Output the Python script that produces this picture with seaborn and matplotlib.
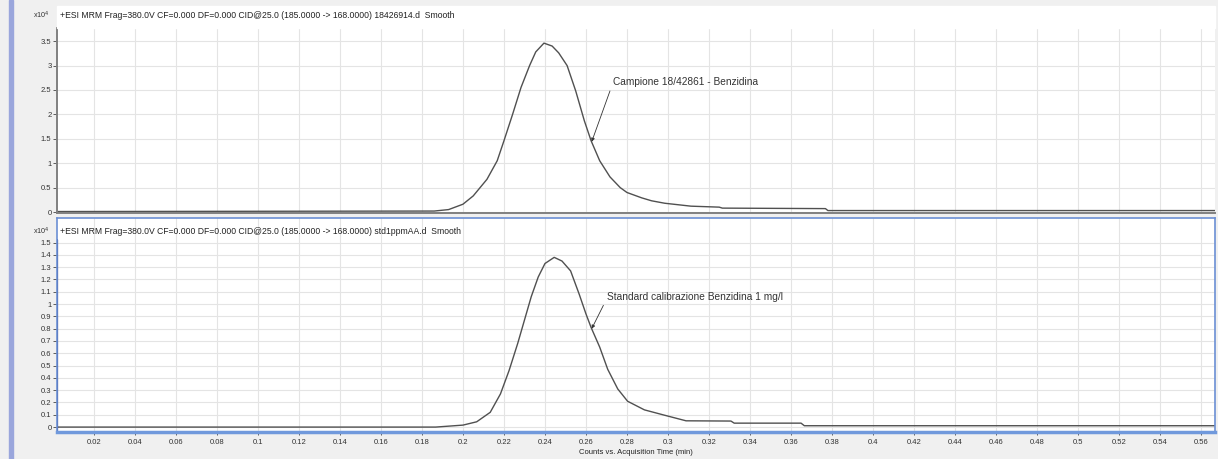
import matplotlib
matplotlib.use("Agg")
import numpy as np
import matplotlib.pyplot as plt
from matplotlib.patches import Rectangle
import seaborn as sns

# ---- data (intensity in x10^4 counts, time in min) ----
t_sample = [0.002, 0.186, 0.193, 0.200, 0.205, 0.2117, 0.2167, 0.220, 0.2242, 0.2283,
            0.2325, 0.2355, 0.2395, 0.2435, 0.2467, 0.2508, 0.255, 0.2592, 0.2625, 0.2667,
            0.2717, 0.2767, 0.280, 0.2872, 0.292, 0.2984, 0.3112, 0.325, 0.3265,
            0.3768, 0.378, 0.5668]
y_sample = [0.01, 0.02, 0.05, 0.16, 0.33, 0.67, 1.05, 1.46, 2.0, 2.55,
            3.0, 3.28, 3.46, 3.40, 3.26, 3.0, 2.48, 1.87, 1.46, 1.05,
            0.72, 0.50, 0.40, 0.29, 0.23, 0.18, 0.12, 0.10, 0.08,
            0.07, 0.03, 0.03]

t_std = [0.002, 0.1867, 0.200, 0.2067, 0.2133, 0.2183, 0.2225, 0.2267, 0.230, 0.2333,
         0.2367, 0.240, 0.2445, 0.2483, 0.2525, 0.2567, 0.260, 0.2625, 0.2667, 0.2706,
         0.2755, 0.2803, 0.2885, 0.2982, 0.3088, 0.3307, 0.3323, 0.3649, 0.3665, 0.5668]
y_std = [0.0, 0.0, 0.016, 0.043, 0.12, 0.27, 0.46, 0.68, 0.87, 1.06,
         1.22, 1.33, 1.38, 1.35, 1.27, 1.08, 0.92, 0.81, 0.65, 0.47,
         0.31, 0.21, 0.14, 0.097, 0.051, 0.049, 0.032, 0.032, 0.011, 0.011]

x_ticks = np.arange(0.02, 0.5601, 0.02)
top_yticks = np.arange(0, 3.51, 0.5)
bot_yticks = np.arange(0, 1.51, 0.1)

header_top = "+ESI MRM Frag=380.0V CF=0.000 DF=0.000 CID@25.0 (185.0000 -> 168.0000) 18426914.d  Smooth"
header_bot = "+ESI MRM Frag=380.0V CF=0.000 DF=0.000 CID@25.0 (185.0000 -> 168.0000) std1ppmAA.d  Smooth"
label_top = "Campione 18/42861 - Benzidina"
label_bot = "Standard calibrazione Benzidina 1 mg/l"

# annotation anchors: (text, arrow start, arrow tip)
ann_top = dict(text=(0.2732, 2.66), start=(0.2717, 2.48), tip=(0.2628, 1.44))
ann_bot = dict(text=(0.2702, 1.057), start=(0.2685, 0.99), tip=(0.2628, 0.80))

# ---- style ----
sns.set_style("whitegrid")
plt.rcParams['font.family'] = ['Liberation Sans', 'DejaVu Sans']

W, H = 1218, 459
fig = plt.figure(figsize=(W / 100, H / 100), dpi=100, facecolor='#f0f0f0')

# side bar and white header band
fig.patches.append(Rectangle((9 / W, 0), 4 / W, 1, transform=fig.transFigure,
                             color='#9aa6dc', zorder=0))
fig.patches.append(Rectangle((57 / W, 1 - 28 / H), 1158 / W, 22 / H, transform=fig.transFigure,
                             color='white', zorder=0))

ax_top = fig.add_axes([57 / W, 1 - 213 / H, 1158 / W, 185 / H])
ax_bot = fig.add_axes([57 / W, 1 - 432 / H, 1158 / W, 214 / H])

line_col = '#505050'
sns.lineplot(x=t_sample, y=y_sample, ax=ax_top, color=line_col, linewidth=1, estimator=None)
sns.lineplot(x=t_std, y=y_std, ax=ax_bot, color=line_col, linewidth=1, estimator=None)

xlim = (0.002, 0.5668)
for ax in (ax_top, ax_bot):
    ax.set_xlim(*xlim)
    ax.set_xticks(x_ticks)
    ax.grid(True, color='#e4e4e4', linewidth=0.8)
    ax.set_ylabel("")
    ax.tick_params(axis='y', direction='out', length=3, width=0.6, color='#444444',
                   labelsize=5.5, pad=1, labelcolor='#333333', left=True)

# top panel
ax_top.set_ylim(-0.02, 3.77)
ax_top.set_yticks(top_yticks)
ax_top.set_yticklabels([f"{v:g}" for v in top_yticks])
ax_top.tick_params(axis='x', length=0, labelbottom=False)
for s in ('top', 'right'):
    ax_top.spines[s].set_visible(False)
for s in ('left', 'bottom'):
    ax_top.spines[s].set_color('#808080')
    ax_top.spines[s].set_linewidth(1.4)
fig.text(60 / W, 1 - 15 / H, header_top, fontsize=6.2, color='#222222', va='center')
fig.text(50 / W, 1 - 15 / H, r"x10$^4$", fontsize=5.2, color='#333333', va='center', ha='right')

# bottom panel
ax_bot.set_ylim(-0.04, 1.70)
ax_bot.set_yticks(bot_yticks)
ax_bot.set_yticklabels([f"{v:g}" for v in bot_yticks])
ax_bot.set_xticklabels([f"{v:g}" for v in x_ticks])
ax_bot.tick_params(axis='x', direction='out', length=2, width=0.6, color='#444444',
                   labelsize=5.5, pad=3, labelcolor='#333333', bottom=True)
for s in ax_bot.spines.values():
    s.set_visible(True)
    s.set_color('#6b8fd4')
    s.set_linewidth(1.2)
ax_bot.spines['bottom'].set_linewidth(2.5)
ax_bot.spines['bottom'].set_color('#7099dc')
lo, hi = ax_bot.get_ylim()
ax_bot.axvline(xlim[0], ymin=0, ymax=(1.52 - lo) / (hi - lo), color='#1f3580', linewidth=1.6)
ax_bot.set_xlabel("Counts vs. Acquisition Time (min)", fontsize=5.5, color='#222222', labelpad=2)
fig.text(60 / W, 1 - 231 / H, header_bot, fontsize=6.2, color='#222222', va='center')
fig.text(50 / W, 1 - 231 / H, r"x10$^4$", fontsize=5.2, color='#333333', va='center', ha='right')

# peak labels with arrows
for ax, ann, txt in ((ax_top, ann_top, label_top), (ax_bot, ann_bot, label_bot)):
    ax.annotate("", xy=ann['tip'], xytext=ann['start'],
                arrowprops=dict(arrowstyle='-|>', color='#333333', lw=0.6, mutation_scale=5,
                                shrinkA=0, shrinkB=0))
    ax.text(*ann['text'], txt, fontsize=7.3, color='#333333', va='center', ha='left')

fig.savefig("out.png", dpi=100, facecolor=fig.get_facecolor())
